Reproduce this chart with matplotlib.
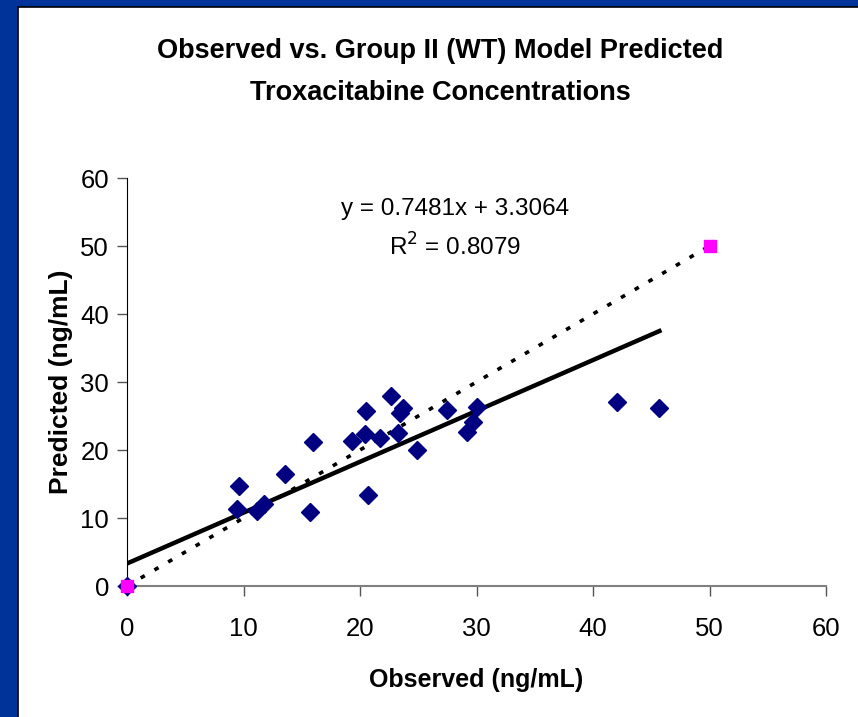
import matplotlib
matplotlib.use("Agg")
import numpy as np
import matplotlib.pyplot as plt
from matplotlib.patches import Rectangle

# ─── Data ─────────────────────────────────────────────────────────────────────

observed = [0.0, 9.4, 9.6, 11.2, 11.8, 13.6, 15.7, 16.0, 19.3, 20.4, 20.5,
            20.7, 21.7, 22.7, 23.3, 23.4, 23.7, 24.9, 27.5, 29.2, 29.7, 30.0,
            42.1, 45.7]
predicted = [0.0, 11.3, 14.7, 11.0, 12.1, 16.5, 10.9, 21.2, 21.3, 22.4, 25.7,
             13.4, 21.8, 27.9, 22.5, 25.4, 26.2, 20.0, 25.9, 22.6, 24.1, 26.3,
             27.1, 26.2]

identity_x = [0, 50]
identity_y = [0, 50]

slope, intercept, r2 = 0.7481, 3.3064, 0.8079

ticks = [0, 10, 20, 30, 40, 50, 60]

# ─── Figure ───────────────────────────────────────────────────────────────────

plt.rcParams["font.family"] = ["Liberation Sans", "DejaVu Sans"]

fig = plt.figure(figsize=(8.58, 7.17), dpi=100)
fig.patch.set_facecolor("#003399")
fig.add_artist(Rectangle((18 / 858, -0.01), 1, 1.01 - 7 / 717, transform=fig.transFigure,
                         facecolor="white", edgecolor="black", linewidth=1.2,
                         zorder=-10))

ax = fig.add_axes([127 / 858, 1 - 586 / 717, 699 / 858, 408 / 717])
ax.set_facecolor("none")

# identity (1:1) line and reference squares
ax.plot(identity_x, identity_y, color="black", lw=2.6, linestyle=(0, (1.3, 3.1)), zorder=2)
ax.plot(identity_x, identity_y, linestyle="none", marker="s", ms=8,
        color="#FF00FF", clip_on=False, zorder=4)

# observations
ax.plot(observed, predicted, linestyle="none", marker="D", ms=9,
        color="#000080", clip_on=False, zorder=3)

# linear trend line
fx = np.array([0, max(observed)])
ax.plot(fx, slope * fx + intercept, color="black", lw=3.2, zorder=2)

ax.set_xlim(0, 60)
ax.set_ylim(0, 60)
ax.set_xticks(ticks)
ax.set_yticks(ticks)
ax.tick_params(direction="out", length=7, width=1, labelsize=18.5, color="#555555")
ax.tick_params(axis="x", pad=15)
ax.tick_params(axis="y", pad=6)

for side in ("top", "right"):
    ax.spines[side].set_visible(False)
ax.spines["left"].set_color("black")
ax.spines["bottom"].set_color("#808080")
ax.spines["bottom"].set_linewidth(1.5)

ax.set_xlabel("Observed (ng/mL)", fontsize=18, fontweight="bold", labelpad=20)
ax.set_ylabel("Predicted (ng/mL)", fontsize=19, fontweight="bold", labelpad=5)

ax.text(0.469, 0.924, f"y = {slope}x + {intercept}", transform=ax.transAxes,
        ha="center", va="center", fontsize=17.5)
ax.text(0.469, 0.83, f"R$^2$ = {r2}", transform=ax.transAxes,
        ha="center", va="center", fontsize=17.5)

fig.text(440 / 858, 1 - 72 / 717,
         "Observed vs. Group II (WT) Model Predicted\nTroxacitabine Concentrations",
         ha="center", va="center", fontsize=19.5, fontweight="bold", linespacing=1.8)

fig.savefig("out.png", dpi=100)
